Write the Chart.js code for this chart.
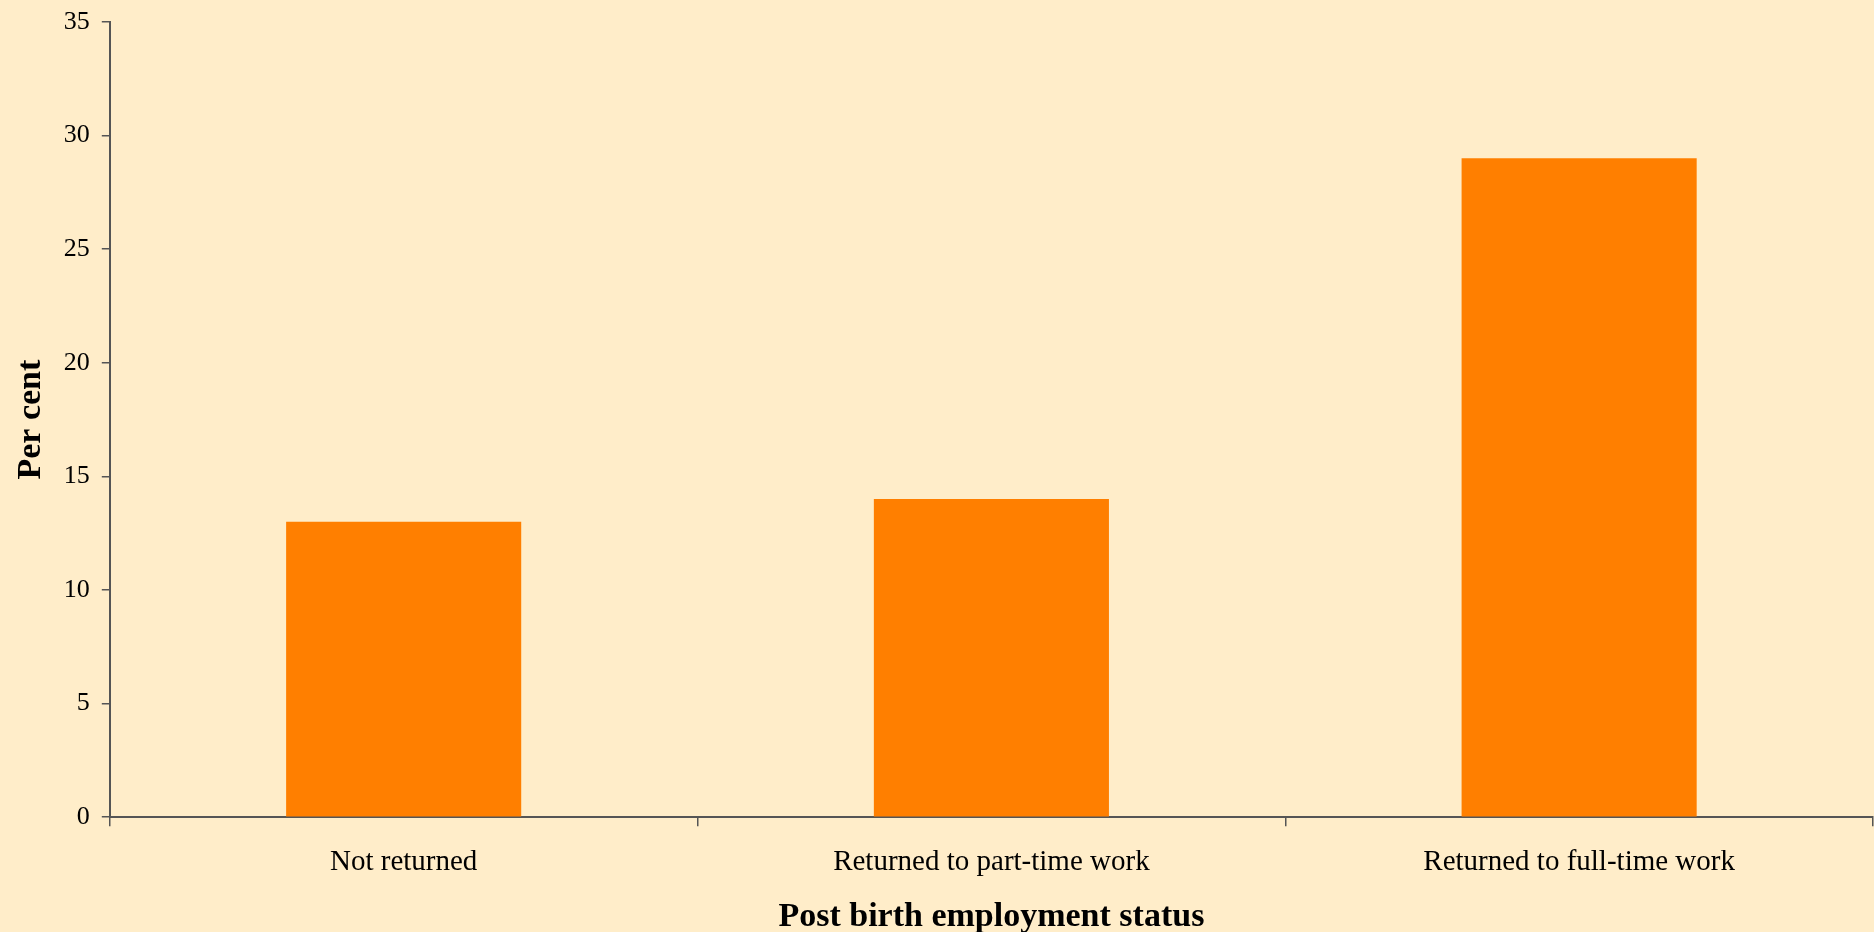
<!DOCTYPE html>
<html>
<head>
<meta charset="utf-8">
<script src="https://cdn.jsdelivr.net/npm/chart.js@4/dist/chart.umd.min.js"></script>
<style>
  html, body { margin: 0; padding: 0; background: #FFEDC9; }
  #wrap { width: 1874px; height: 932px; position: relative; }
</style>
</head>
<body>
<div id="wrap"><canvas id="grafico"></canvas></div>
<script>
var categorias = ["Not returned", "Returned to part-time work", "Returned to full-time work"];
var porcentajes = [13, 14, 29];
var ticks_y = [0, 5, 10, 15, 20, 25, 30, 35];

var fuente = "'Liberation Serif', 'Times New Roman', serif";
var color_eje = "#555555";

var ctx = document.getElementById("grafico").getContext("2d");
window.myBar = new Chart(ctx, {
    type: 'bar',
    data: {
        labels: categorias,
        datasets: [{
            label: 'Per cent',
            backgroundColor: '#FF7F00',
            borderWidth: 0,
            data: porcentajes,
            categoryPercentage: 1.0,
            barPercentage: 0.4
        }]
    },
    options: {
        responsive: true,
        maintainAspectRatio: false,
        animation: false,
        layout: { padding: { left: 11, top: 22, right: 1, bottom: -2 } },
        plugins: {
            legend: { display: false },
            tooltip: { enabled: false }
        },
        scales: {
            x: {
                offset: true,
                grid: {
                    offset: true,
                    drawOnChartArea: false,
                    drawTicks: true,
                    tickLength: 9,
                    color: color_eje,
                    lineWidth: 1.5
                },
                border: { display: true, color: color_eje, width: 2 },
                ticks: {
                    color: '#000',
                    padding: 19,
                    maxRotation: 0,
                    font: { family: fuente, size: 29 }
                },
                title: {
                    display: true,
                    text: 'Post birth employment status',
                    color: '#000',
                    padding: { top: 1, bottom: 0 },
                    font: { family: fuente, size: 34, weight: 'bold', lineHeight: 1 }
                }
            },
            y: {
                min: 0,
                max: 35,
                afterBuildTicks: function(axis){
                    axis.ticks = ticks_y.map(function(v){ return { value: v }; });
                },
                afterFit: function(axis){
                    // el 35 queda pegado arriba como en el original
                    axis.paddingTop = 0;
                },
                grid: {
                    drawOnChartArea: false,
                    drawTicks: true,
                    tickLength: 8,
                    color: color_eje,
                    lineWidth: 1.5
                },
                border: { display: true, color: color_eje, width: 2 },
                ticks: {
                    color: '#000',
                    padding: 12,
                    font: { family: fuente, size: 26 }
                },
                title: {
                    display: true,
                    text: 'Per cent',
                    color: '#000',
                    padding: { top: 0, bottom: 0 },
                    font: { family: fuente, size: 34, weight: 'bold' }
                }
            }
        }
    }
});
</script>
</body>
</html>
